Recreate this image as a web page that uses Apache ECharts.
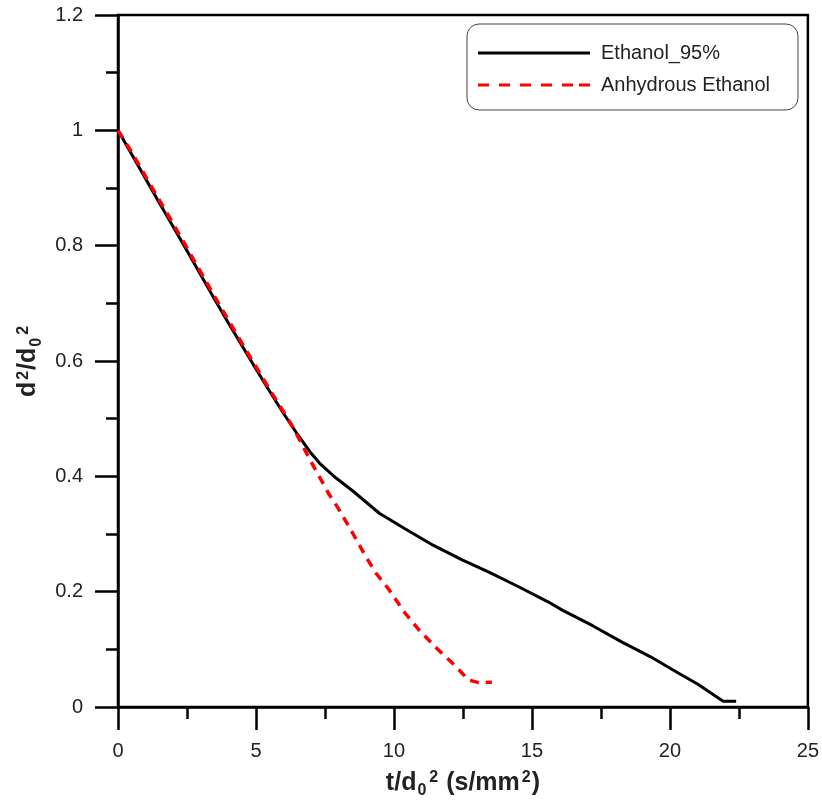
<!DOCTYPE html>
<html>
<head>
<meta charset="utf-8">
<script src="https://cdn.jsdelivr.net/npm/echarts@6/dist/echarts.min.js"></script>
<style>html,body{margin:0;padding:0;background:#fff;}#c{width:822px;height:805px;}</style>
</head>
<body>
<div id="c"></div>
<script>
var eth95X = [0, 0.5, 1, 1.5, 2, 2.5, 3, 3.5, 4, 4.5, 5, 5.5, 6, 6.5, 7, 7.3, 7.9, 8.5, 9.47, 10.4, 11.4, 12.47, 13.44, 14.5, 15.6, 16.1, 17.2, 18.25, 19.3, 20.3, 21.0, 21.5, 21.93, 22.4];
var eth95Y = [1, 0.958, 0.916, 0.874, 0.833, 0.791, 0.749, 0.707, 0.666, 0.626, 0.586, 0.547, 0.509, 0.473, 0.44, 0.423, 0.397, 0.375, 0.336, 0.309, 0.281, 0.255, 0.234, 0.209, 0.182, 0.168, 0.141, 0.113, 0.087, 0.059, 0.04, 0.024, 0.01, 0.01];
var anhX = [0, 0.5, 1, 1.5, 2, 2.5, 3, 3.5, 4, 4.5, 5, 5.5, 6, 6.33, 7, 7.66, 7.95, 8.38, 8.99, 9.35, 9.83, 10.4, 10.9, 11.5, 12.25, 12.7, 13.1, 13.55];
var anhY = [1, 0.962, 0.92, 0.879, 0.838, 0.796, 0.754, 0.712, 0.671, 0.63, 0.59, 0.55, 0.512, 0.486, 0.425, 0.368, 0.347, 0.312, 0.26, 0.232, 0.203, 0.163, 0.134, 0.104, 0.07, 0.047, 0.042, 0.043];
var seriesNames = ['Ethanol_95%', 'Anhydrous Ethanol'];

function zip(xs, ys) { return xs.map(function (x, i) { return [x, ys[i]]; }); }

var chart = echarts.init(document.getElementById('c'));
var font = 'Liberation Sans, Arial, sans-serif';
var richName = {
  b: { fontFamily: font, fontSize: 25, fontWeight: 'bold', color: '#222', lineHeight: 32, verticalAlign: 'middle' },
  sub: { fontFamily: font, fontSize: 16, fontWeight: 'bold', color: '#222', lineHeight: 32, verticalAlign: 'bottom', padding: [0, 1, 0, 1] },
  sup: { fontFamily: font, fontSize: 16, fontWeight: 'bold', color: '#222', lineHeight: 32, verticalAlign: 'top', padding: [3, 1, 0, 2] }
};
var solidIcon = 'path://M0,0h112v3h-112z';
var dashIcon = 'path://M0,0h11v3h-11z M21,0h11v3h-11z M42,0h11v3h-11z M63,0h11v3h-11z M84,0h11v3h-11z M101,0h11v3h-11z';
chart.setOption({
  animation: false,
  backgroundColor: '#fff',
  grid: { left: 118, right: 12, top: 15, bottom: 98, show: true, borderColor: '#000', borderWidth: 2.5, backgroundColor: 'transparent' },
  legend: {
    show: true,
    orient: 'vertical', left: 467, top: 24,
    padding: [19, 28, 15, 11],
    borderColor: '#444', borderWidth: 1, borderRadius: 12,
    itemWidth: 112, itemHeight: 3.5, itemGap: 12,
    textStyle: { fontFamily: font, fontSize: 20, color: '#222', padding: [0, 0, 0, 6] },
    data: [
      { name: seriesNames[0], icon: solidIcon },
      { name: seriesNames[1], icon: dashIcon }
    ]
  },
  xAxis: {
    type: 'value', min: 0, max: 25, interval: 5,
    name: '{b|t/d}{sub|0}{sup|2}{b| (s/mm}{sup|2}{b|)}',
    nameLocation: 'middle', nameGap: 60,
    nameTextStyle: { fontFamily: font, rich: richName },
    axisLine: { onZero: false, lineStyle: { color: '#000', width: 2.5 } },
    axisTick: { length: 23, lineStyle: { color: '#000', width: 2.5 } },
    minorTick: { show: true, splitNumber: 2, length: 12, lineStyle: { color: '#000', width: 2.5 } },
    splitLine: { show: false },
    axisLabel: { fontFamily: font, fontSize: 20, color: '#222', margin: 34 }
  },
  yAxis: {
    type: 'value', min: 0, max: 1.2, interval: 0.2,
    name: '{b|d}{sup|2}{b|/d}{sub|0}{sup|2}',
    nameLocation: 'middle', nameGap: 64, nameRotate: 90,
    nameTextStyle: { fontFamily: font, rich: richName },
    axisLine: { onZero: false, lineStyle: { color: '#000', width: 2.5 } },
    axisTick: { length: 23, lineStyle: { color: '#000', width: 2.5 } },
    minorTick: { show: true, splitNumber: 2, length: 12, lineStyle: { color: '#000', width: 2.5 } },
    splitLine: { show: false },
    axisLabel: { fontFamily: font, fontSize: 20, color: '#222', margin: 35 }
  },
  series: [
    {
      name: seriesNames[0], type: 'line', showSymbol: false, symbol: 'none',
      data: zip(eth95X, eth95Y),
      lineStyle: { color: '#000', width: 3 }, itemStyle: { color: '#000' }, z: 3
    },
    {
      name: seriesNames[1], type: 'line', showSymbol: false, symbol: 'none',
      data: zip(anhX, anhY),
      lineStyle: { color: '#ff0000', width: 3.5, type: [9, 7] }, itemStyle: { color: '#ff0000' }, z: 4
    }
  ]
});
</script>
</body>
</html>
